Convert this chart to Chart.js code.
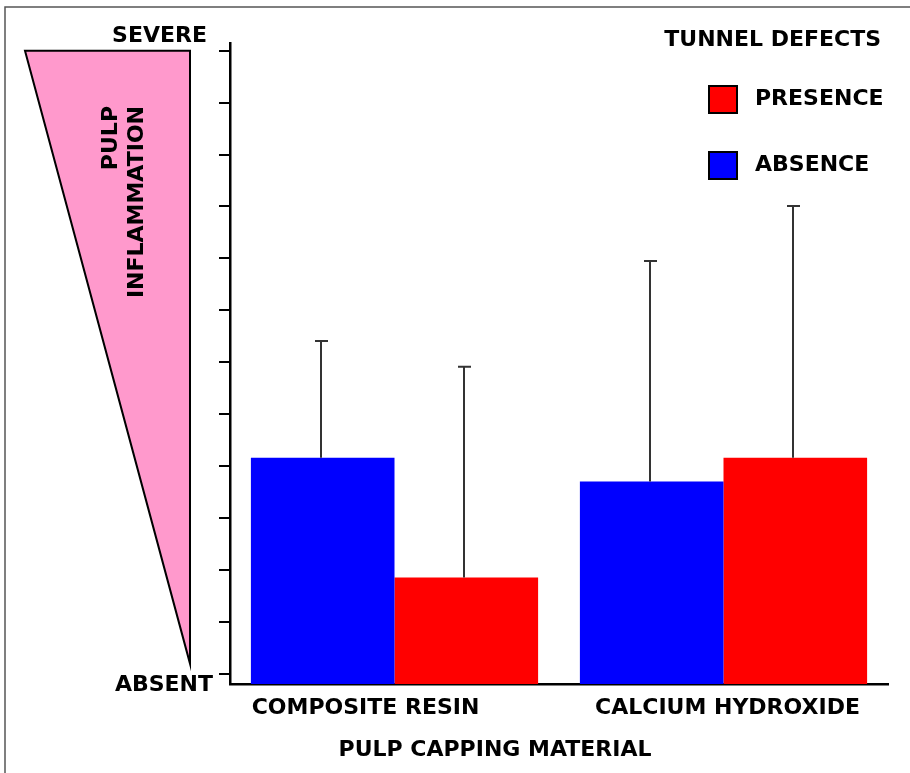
<!DOCTYPE html>
<html>
<head>
<meta charset="utf-8">
<script src="https://cdn.jsdelivr.net/npm/chart.js@4"></script>
<style>
  html, body { margin: 0; padding: 0; background: #fff; }
  canvas { display: block; }
</style>
</head>
<body>
<canvas id="chart" width="910" height="773"></canvas>
<script>
// data (units = tick steps from ABSENT to SEVERE)
var categories = ['COMPOSITE RESIN', 'CALCIUM HYDROXIDE'];
var absenceMean = [4.16, 3.70];
var absenceSd = [2.25, 4.25];
var presenceMean = [1.85, 4.16];
var presenceSd = [4.06, 4.85];
var yTicks = [0, 1, 2, 3, 4, 5, 6, 7, 8, 9, 10, 11, 12];
var yMin = -0.2, yMax = 12.15;

var FONT = '"DejaVu Sans", sans-serif';
var labelShift = [-29, 4];

// frame, triangle, side texts
var decor = {
    id: 'decor',
    beforeDraw: function (chart) {
        var ctx = chart.ctx, y = chart.scales.y;
        ctx.save();
        ctx.fillStyle = '#fff';
        ctx.fillRect(0, 0, chart.width, chart.height);
        ctx.strokeStyle = '#555';
        ctx.lineWidth = 1.5;
        ctx.beginPath();
        ctx.moveTo(5, chart.height);
        ctx.lineTo(5, 7);
        ctx.lineTo(chart.width, 7);
        ctx.stroke();

        var top = y.getPixelForValue(yTicks[yTicks.length - 1]);
        var bot = y.getPixelForValue(0) - 10;
        ctx.beginPath();
        ctx.moveTo(25, top);
        ctx.lineTo(190, top);
        ctx.lineTo(190, bot);
        ctx.closePath();
        ctx.fillStyle = '#ff99cc';
        ctx.fill();
        ctx.strokeStyle = '#000';
        ctx.lineWidth = 2;
        ctx.stroke();

        ctx.fillStyle = '#000';
        ctx.font = 'bold 22px ' + FONT;
        ctx.textAlign = 'right';
        ctx.textBaseline = 'middle';
        ctx.fillText('SEVERE', 207, 36);
        ctx.fillText('ABSENT', 213, 685);

        ctx.save();
        ctx.translate(111, 106);
        ctx.rotate(-Math.PI / 2);
        ctx.fillText('PULP', 0, 0);
        ctx.fillText('INFLAMMATION', 0, 26);
        ctx.restore();

        ctx.textAlign = 'center';
        ctx.fillText('PULP CAPPING MATERIAL', 495, 750);

        // category labels under the x axis
        var x = chart.scales.x;
        categories.forEach(function (c, i) {
            ctx.fillText(c, x.getPixelForValue(i) + labelShift[i], 708);
        });
        ctx.restore();
    },
    afterDraw: function (chart) {
        // legend
        var ctx = chart.ctx;
        ctx.save();
        ctx.font = 'bold 22px ' + FONT;
        ctx.fillStyle = '#000';
        ctx.textBaseline = 'middle';
        ctx.textAlign = 'right';
        ctx.fillText('TUNNEL DEFECTS', 881, 40);
        ctx.textAlign = 'left';
        var order = [1, 0];
        order.forEach(function (di, k) {
            var ds = chart.data.datasets[di];
            var yy = 86 + k * 66;
            ctx.fillStyle = ds.backgroundColor;
            ctx.fillRect(709, yy, 28, 27);
            ctx.strokeStyle = '#000';
            ctx.lineWidth = 2;
            ctx.strokeRect(709, yy, 28, 27);
            ctx.fillStyle = '#000';
            ctx.fillText(ds.label, 755, yy + 13);
        });
        ctx.restore();
    }
};

// one sided error bars
var errorBars = {
    id: 'errorBars',
    afterDatasetsDraw: function (chart) {
        var ctx = chart.ctx, y = chart.scales.y;
        ctx.save();
        ctx.strokeStyle = '#333';
        ctx.lineWidth = 2;
        chart.data.datasets.forEach(function (ds, di) {
            var meta = chart.getDatasetMeta(di);
            meta.data.forEach(function (bar, i) {
                var x = Math.round(bar.x - 2);
                var yTop = y.getPixelForValue(ds.data[i] + ds.sd[i]);
                ctx.beginPath();
                ctx.moveTo(x, bar.y);
                ctx.lineTo(x, yTop);
                ctx.moveTo(x - 6, yTop);
                ctx.lineTo(x + 7, yTop);
                ctx.stroke();
            });
        });
        ctx.restore();
    }
};

new Chart(document.getElementById('chart').getContext('2d'), {
    type: 'bar',
    data: {
        labels: categories,
        datasets: [{
            label: 'ABSENCE',
            data: absenceMean,
            sd: absenceSd,
            backgroundColor: '#0000ff',
            base: yMin
        }, {
            label: 'PRESENCE',
            data: presenceMean,
            sd: presenceSd,
            backgroundColor: '#ff0000',
            base: yMin
        }]
    },
    plugins: [decor, errorBars],
    options: {
        responsive: false,
        animation: false,
        devicePixelRatio: 1,
        categoryPercentage: 0.873,
        barPercentage: 1,
        layout: { padding: { left: 230, top: 43, right: 22, bottom: 89 } },
        plugins: {
            legend: { display: false },
            tooltip: { enabled: false }
        },
        scales: {
            x: {
                afterFit: function (s) { s.height = 0; },
                grid: { display: false, drawTicks: false },
                border: { display: true, color: '#000', width: 2.5 },
                ticks: { display: false }
            },
            y: {
                min: yMin,
                max: yMax,
                afterFit: function (s) { s.width = 0; },
                afterBuildTicks: function (s) {
                    s.ticks = yTicks.map(function (v) { return { value: v }; });
                },
                grid: { drawOnChartArea: false, drawTicks: true, tickLength: 11, color: '#000', lineWidth: 2 },
                border: { display: true, color: '#000', width: 2.5 },
                ticks: { display: false }
            }
        }
    }
});
</script>
</body>
</html>
